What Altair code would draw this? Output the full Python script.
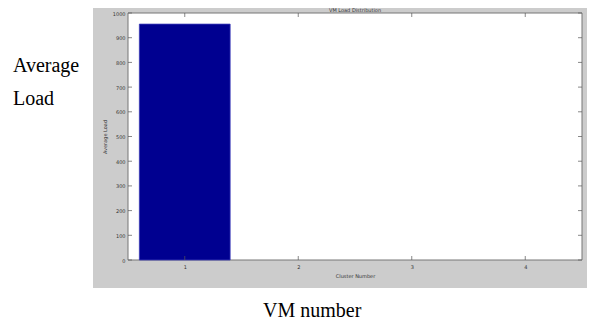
import altair as alt
import pandas as pd

# ---- data ----
vm_numbers = [1, 2, 3, 4]
avg_load = [955, 0, 0, 0]
y_ticks = [0, 100, 200, 300, 400, 500, 600, 700, 800, 900, 1000]
x_ticks = [1, 2, 3, 4]
chart_title = "VM Load Distribution"

bars = pd.DataFrame({"vm": vm_numbers, "load": avg_load})
bars = bars[bars["load"] > 0]
yt = pd.DataFrame({"v": y_ticks})
xt = pd.DataFrame({"v": x_ticks})
one = pd.DataFrame({"a": [0]})

W, H = 454, 247
xscale = alt.Scale(domain=[0.5, 4.5], nice=False, zero=False)
yscale = alt.Scale(domain=[0, 1000], nice=False)

axis_style = dict(grid=False, ticks=False, domain=False, format="d", zindex=2,
                  labelFontSize=5, labelColor="#333333", labelFont="DejaVu Sans",
                  labelOverlap=False,
                  titleFontSize=5, titleColor="#333333", titleFont="DejaVu Sans",
                  titleFontWeight="normal")
x_axis = alt.Axis(values=x_ticks, title="Cluster Number", labelPadding=4, titlePadding=4, **axis_style)
y_axis = alt.Axis(values=y_ticks, title="Average Load", labelPadding=3, titlePadding=5, **axis_style)

gray = alt.Chart(one).mark_rect(color="#cccccc").encode(
    x=alt.value(-35), x2=alt.value(470), y=alt.value(-10), y2=alt.value(275)
)
white = alt.Chart(one).mark_rect(fill="white", stroke="#777777", strokeWidth=1).encode(
    x=alt.value(0), x2=alt.value(W), y=alt.value(0), y2=alt.value(H)
)

bar = alt.Chart(bars).transform_calculate(
    x0="datum.vm - 0.4", x1="datum.vm + 0.4"
).mark_bar(color="#000090", stroke="#3a3ab8", strokeWidth=0.8).encode(
    x=alt.X("x0:Q", scale=xscale, axis=x_axis, title="Cluster Number"),
    x2="x1:Q",
    y=alt.Y("load:Q", scale=yscale, axis=y_axis, title="Average Load"),
    y2=alt.datum(0),
)

tick_style = dict(color="#555555", thickness=1, size=4)
yl = alt.Chart(yt).mark_tick(**tick_style).encode(
    y=alt.Y("v:Q", scale=yscale, axis=y_axis, title="Average Load"), x=alt.value(2))
yr = alt.Chart(yt).mark_tick(**tick_style).encode(
    y=alt.Y("v:Q", scale=yscale, axis=y_axis, title="Average Load"), x=alt.value(W - 2))
xb = alt.Chart(xt).mark_tick(**tick_style).encode(
    x=alt.X("v:Q", scale=xscale, axis=x_axis, title="Cluster Number"), y=alt.value(H - 2))
xtp = alt.Chart(xt).mark_tick(**tick_style).encode(
    x=alt.X("v:Q", scale=xscale, axis=x_axis, title="Cluster Number"), y=alt.value(2))

ttl = alt.Chart(pd.DataFrame({"t": [chart_title]})).mark_text(
    font="DejaVu Sans", fontSize=5, color="#333333", align="center", baseline="alphabetic"
).encode(text="t:N", x=alt.value(W / 2), y=alt.value(-1))

serif = dict(font="Liberation Serif", fontSize=20, color="black", align="left", baseline="alphabetic")
t1 = alt.Chart(pd.DataFrame({"t": ["Average"]})).mark_text(**serif).encode(
    text="t:N", x=alt.value(-115), y=alt.value(59))
t2 = alt.Chart(pd.DataFrame({"t": ["Load"]})).mark_text(**serif).encode(
    text="t:N", x=alt.value(-115), y=alt.value(92))
t3 = alt.Chart(pd.DataFrame({"t": ["VM number"]})).mark_text(**serif).encode(
    text="t:N", x=alt.value(135), y=alt.value(304))

chart = alt.layer(gray, white, bar, yl, yr, xb, xtp, ttl, t1, t2, t3).properties(
    width=W, height=H,
    background="white",
    autosize=alt.AutoSizeParams(type="none"),
    padding={"left": 120, "top": 5, "right": 5, "bottom": 63},
).configure_view(stroke=None, fill=None)

chart.save("out.html", embed_options={"renderer": "svg", "actions": False})
